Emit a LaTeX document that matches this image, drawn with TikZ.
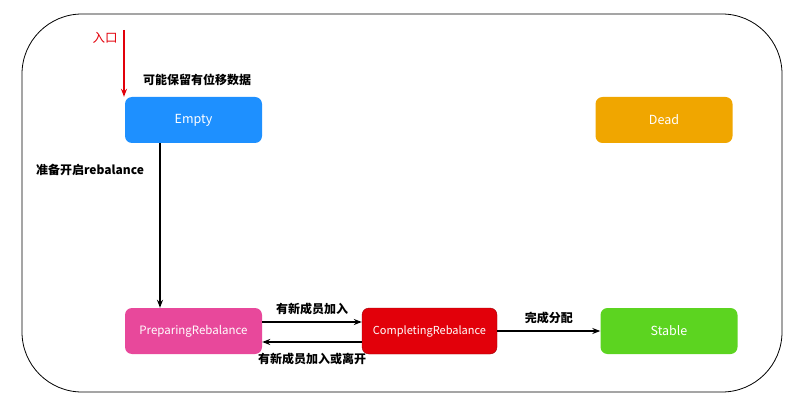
\documentclass[tikz,border=0pt]{standalone}
\usepackage{fontspec}
\setmainfont{Noto Sans CJK SC}
\usetikzlibrary{arrows.meta}
\definecolor{cEmpty}{RGB}{30,144,255}
\definecolor{cDead}{RGB}{240,166,0}
\definecolor{cPrep}{RGB}{232,72,155}
\definecolor{cComp}{RGB}{226,0,10}
\definecolor{cStable}{RGB}{92,212,32}
\tikzset{
 state/.style={rounded corners=7pt, minimum width=137pt, minimum height=46pt, text=white, font=\fontsize{12.5}{14}\selectfont, inner sep=0pt},
 lbl/.style={font=\fontsize{12}{14}\selectfont\bfseries, text=black},
 conn/.style={-{Stealth[length=8pt,width=6pt]}, line width=1.2pt}
}
\begin{document}
\begin{tikzpicture}[x=1pt,y=-1pt]
\useasboundingbox (0,0) rectangle (800,406);
\draw[rounded corners=60pt, line width=0.8pt] (22,14) rectangle (782,392);
\node[state, fill=cEmpty] (empty) at (193.5,120) {Empty};
\node[state, fill=cDead] (dead) at (664,120) {Dead};
\node[state, fill=cPrep, font=\fontsize{11.5}{14}\selectfont] (prep) at (193.5,331) {PreparingRebalance};
\node[state, fill=cComp, draw=cComp!70!black, minimum width=135pt, font=\fontsize{11}{14}\selectfont] (comp) at (429.5,331) {CompletingRebalance};
\node[state, fill=cStable] (stable) at (669,331) {Stable};
\coordinate (entry) at (124,30);
\node[font=\fontsize{12.5}{14}\selectfont, text=cComp] (rk) at (105,38) {入口};
\draw[conn, draw=cComp] (entry) -- (entry |- empty.north);
\node[lbl] (keep) at (197,80) {可能保留有位移数据};
\draw[conn] ([xshift=-33.5pt]empty.south) -- ([xshift=-33.5pt]prep.north);
\node[lbl] (prl) at (90,170) {准备开启rebalance};
\draw[conn] ([yshift=9pt]prep.east) -- ([yshift=9pt]comp.west) node[midway, lbl, above=3pt] {有新成员加入};
\draw[conn] ([yshift=-11pt]comp.west) -- ([yshift=-11pt]prep.east) node[midway, lbl, below=7pt] {有新成员加入或离开};
\draw[conn] (comp) -- (stable) node[midway, lbl, above=3pt] {完成分配};
\end{tikzpicture}
\end{document}
